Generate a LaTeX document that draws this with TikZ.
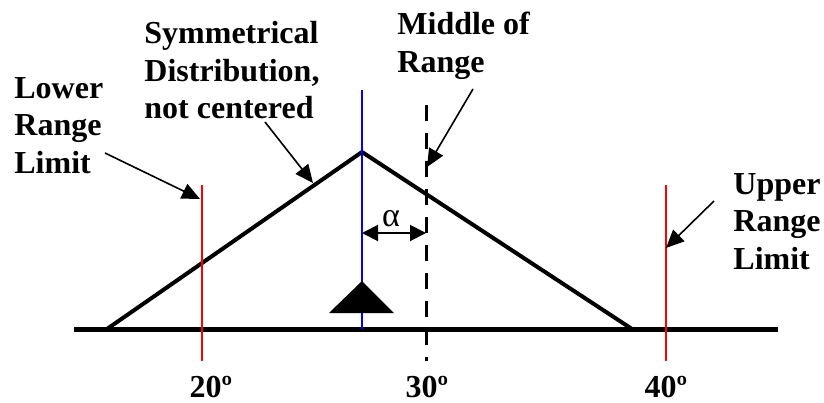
\documentclass[tikz,border=0pt]{standalone}
\usepackage{fontspec}
\setmainfont{Liberation Serif}
\usetikzlibrary{arrows.meta}

\begin{document}
\begin{tikzpicture}[
    x=0.5pt, y=-0.5pt,
    caption/.style={
        font=\bfseries\fontsize{16}{18.7}\selectfont,
        align=left, inner sep=0pt, anchor=north west
    },
    degree/.style={
        font=\bfseries\fontsize{16}{18.7}\selectfont,
        inner sep=0pt, anchor=base
    },
    limit/.style={red, line width=1pt},
    pointer/.style={-{Triangle[length=9pt,width=8pt]}, line width=0.8pt},
    spread/.style={line width=2pt, line join=miter},
    gap/.style={{Triangle[length=8pt,width=8pt]}-{Triangle[length=8pt,width=8pt]}, line width=1pt},
]
\useasboundingbox (0,0) rectangle (824,402);

% Axis and the symmetrical distribution
\coordinate (axisL) at (74,329);
\coordinate (axisR) at (778,329);
\coordinate (footL) at (107,329);
\coordinate (peak) at (362,152);
\coordinate (footR) at (632,329);

\draw[line width=2.5pt] (axisL) -- (axisR);
\draw[spread] (footL) -- (peak) -- (footR);

% Centre of the distribution and the balance point
\coordinate (centreTop) at (362,90);
\coordinate (centreBot) at (362,329);
\draw[blue, line width=1pt] (centreTop) -- (centreBot);
\fill (329,313) -- (362,281) -- (394,313) -- cycle;

% Range limits and middle of range
\coordinate (lowTop) at (202,185);
\coordinate (lowBot) at (202,361);
\coordinate (upTop) at (666,185);
\coordinate (upBot) at (666,361);
\coordinate (midTop) at (426,105);
\coordinate (midBot) at (426,361);

\draw[limit] (lowTop) -- (lowBot);
\draw[limit] (upTop) -- (upBot);
\draw[dashed, dash pattern=on 8pt off 6pt, line width=1.5pt] (midTop) -- (midBot);

% Offset alpha
\coordinate (gapL) at (362,233);
\coordinate (gapR) at (426,233);
\draw[gap] (gapL) -- (gapR);
\node[font=\fontsize{17}{17}\selectfont, inner sep=0pt] (alpha) at (391,219) {α};

% Degree labels
\node[degree] (t20) at (211,397) {20º};
\node[degree] (t30) at (427,397) {30º};
\node[degree] (t40) at (666,397) {40º};

% Captions
\node[caption] (lowerTxt) at (14,77) {Lower\\Range\\Limit};
\node[caption] (symTxt) at (144,21) {Symmetrical\\Distribution,\\not centered};
\node[caption] (midTxt) at (397,12) {Middle of\\Range};
\node[caption] (upperTxt) at (733,173) {Upper\\Range\\Limit};

% Pointers
\coordinate (lowerTail) at (105,153);
\coordinate (lowerHit) at (200,199);
\coordinate (symTail) at (265,122);
\coordinate (symHit) at (313,183);
\coordinate (midTail) at (473,89);
\coordinate (midHit) at (427,167);
\coordinate (upperTail) at (714,201);
\coordinate (upperHit) at (666,248);

\draw[pointer] (lowerTail) -- (lowerHit);
\draw[pointer] (symTail) -- (symHit);
\draw[pointer] (midTail) -- (midHit);
\draw[pointer] (upperTail) -- (upperHit);

\end{tikzpicture}
\end{document}
